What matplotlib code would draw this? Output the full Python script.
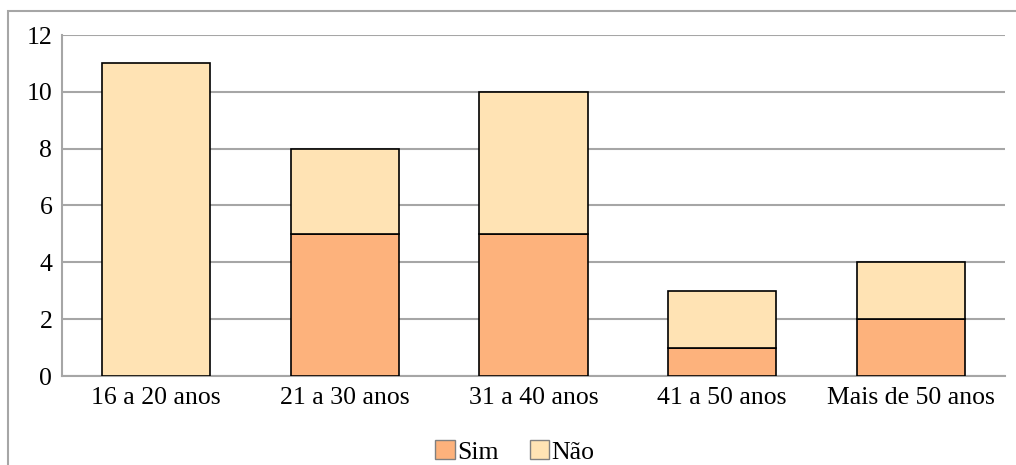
import numpy as np
import matplotlib.pyplot as plt
from matplotlib.patches import Rectangle

categorias = ["16 a 20 anos", "21 a 30 anos", "31 a 40 anos", "41 a 50 anos", "Mais de 50 anos"]
sim = [0, 5, 5, 1, 2]
nao = [11, 3, 5, 2, 2]

COR_SIM = "#FDB27C"
COR_NAO = "#FFE3B4"
CINZA = "#A6A6A6"

plt.rcParams["font.family"] = ["Liberation Serif", "DejaVu Serif"]

W, H = 1016, 465
fig = plt.figure(figsize=(W / 100, H / 100), dpi=100)
ax = fig.add_axes([62 / W, 1 - 376 / H, (1005 - 62) / W, (376 - 35) / H])

# moldura externa do grafico
fig.patches.append(Rectangle((8 / W, -0.1), 1.2, 1 - 11 / H + 0.1, transform=fig.transFigure,
                             fill=False, edgecolor=CINZA, linewidth=1.5))

x = np.arange(len(categorias))
largura = 0.573
ax.bar(x, sim, largura, color=COR_SIM, edgecolor="black", linewidth=1.2, label="Sim", zorder=3)
ax.bar(x, nao, largura, bottom=sim, color=COR_NAO, edgecolor="black", linewidth=1.2, label="Não", zorder=3)

ax.set_xlim(-0.5, len(categorias) - 0.5)
ax.set_ylim(0, 12)
ax.set_yticks(range(0, 13, 2))
ax.set_xticks(x)
ax.set_xticklabels(categorias)
ax.tick_params(length=0, labelsize=18.5, colors="black")
ax.tick_params(axis="x", pad=8)
ax.tick_params(axis="y", pad=7)
ax.yaxis.grid(True, color=CINZA, linewidth=1.5, zorder=0)
for lado in ["top", "right"]:
    ax.spines[lado].set_visible(False)
for lado in ["left", "bottom"]:
    ax.spines[lado].set_color(CINZA)
    ax.spines[lado].set_linewidth(1.5)

leg = fig.legend(loc="center", bbox_to_anchor=(515 / W, 1 - 452 / H), ncol=2, frameon=False,
                 fontsize=18.5, handlelength=0.75, handleheight=0.75, handletextpad=0.1,
                 columnspacing=1.2)
for h in leg.legend_handles:
    h.set_edgecolor("#808080")
    h.set_linewidth(1)

fig.savefig("out.png", dpi=100)
